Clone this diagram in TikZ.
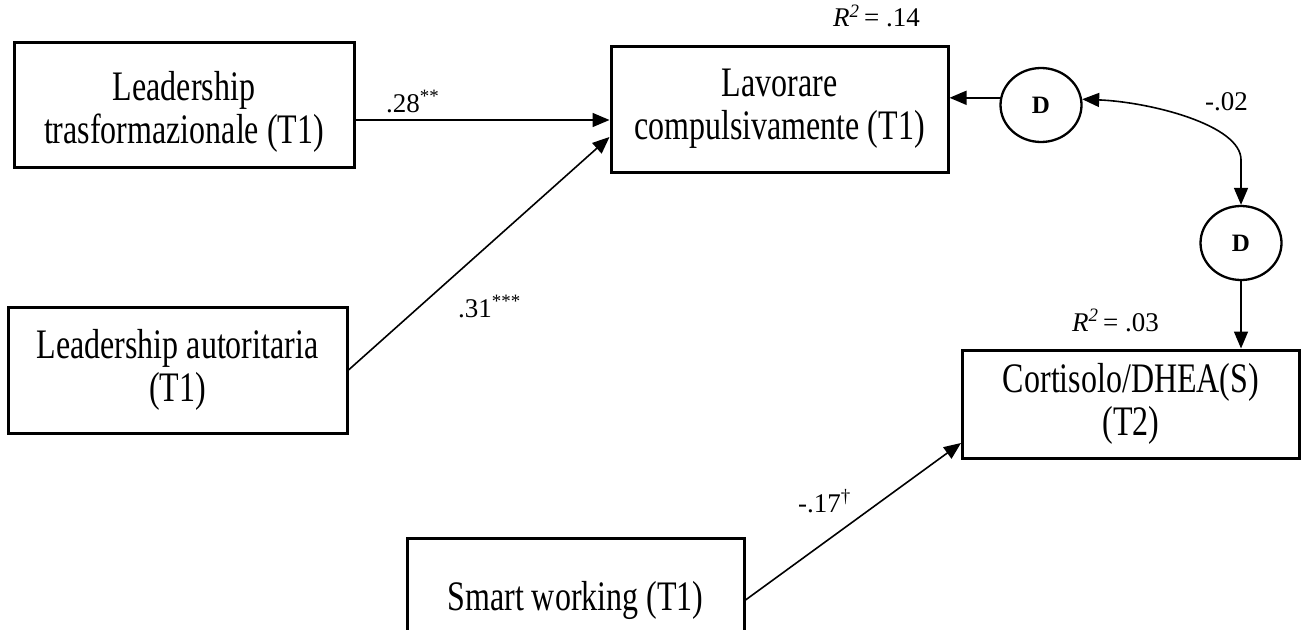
\documentclass[tikz,border=0pt]{standalone}
\usepackage{fontspec}
\setmainfont{Liberation Serif}
\newfontfamily\boxfont[FakeStretch=0.762]{Liberation Serif}
\usetikzlibrary{arrows.meta,shapes.geometric,calc}
\newcommand\dropline[1]{\raisebox{-7pt}[\height][\depth]{#1}}
\tikzset{
  varbox/.style={draw, line width=3pt, align=center, inner sep=0pt,
    font=\boxfont\fontsize{42}{43}\selectfont},
  dist/.style={draw, ellipse, line width=2.3pt, inner sep=0pt,
    minimum width=81pt, minimum height=74pt,
    font=\fontsize{25}{30}\selectfont\bfseries},
  tip/.style={line width=1.6pt, -{Triangle[length=17pt,width=14pt]}},
  cov/.style={line width=1.6pt, {Triangle[length=17pt,width=14pt]}-{Triangle[length=17pt,width=14pt]}},
  coef/.style={anchor=base west, inner sep=0pt, font=\fontsize{27}{32}\selectfont}
}
\begin{document}
\begin{tikzpicture}[x=1pt,y=-1pt]
\useasboundingbox (0,0) rectangle (1308,629);
\clip (0,0) rectangle (1308,629);
\fill[white] (0,0) rectangle (1308,629);

% observed variables
\node[varbox, minimum width=340pt, minimum height=125pt] (lt) at (184,104.5)
  {\dropline{Leadership}\\\dropline{trasformazionale (T1)}};
\node[varbox, minimum width=339pt, minimum height=126pt] (la) at (177.5,370)
  {Leadership autoritaria\\(T1)};
\node[varbox, minimum width=337pt, minimum height=126pt] (lc) at (779.5,109)
  {Lavorare\\compulsivamente (T1)};
\node[varbox, minimum width=337pt, minimum height=108pt] (cd) at (1131,404)
  {Cortisolo/DHEA(S)\\(T2)};
\node[varbox, minimum width=337pt, minimum height=124pt] (sw) at (575.5,600)
  {Smart working (T1)};

% disturbances
\node[dist] (d1) at (1041,105) {D};
\node[dist] (d2) at (1241,243) {D};

% structural paths
\draw[tip] ([yshift=-15.5pt]lt.east) -- ([yshift=-15.5pt]lt.east -| lc.west);
\draw[tip] (la.east) -- ([yshift=-28pt]lc.west);
\draw[tip] (sw.east) -- ([yshift=-39pt]cd.west);
\draw[tip] (d1.170) -- (d1.170 -| lc.east);
\draw[tip] (d2.south) -- (d2.south |- cd.north);
\draw[cov] (d1.8) .. controls (1150,102) and ($(d2.north)+(0,-80)$) .. ($(d2.north)+(0,-45)$) -- (d2.north);

% coefficients
\node[coef] (c1) at (386,112) {.28\textsuperscript{**}};
\node[coef] (c2) at (458,317) {.31\textsuperscript{***}};
\node[coef] (c3) at (798,512) {-.17\textsuperscript{†}};
\node[coef] (c4) at (1205,110) {-.02};
\node[coef] (r1) at (833,27) {\textit{R}\textsuperscript{\textit{2}}\,= .14};
\node[coef] (r2) at (1072,331) {\textit{R}\textsuperscript{\textit{2}}\,= .03};
\end{tikzpicture}
\end{document}
